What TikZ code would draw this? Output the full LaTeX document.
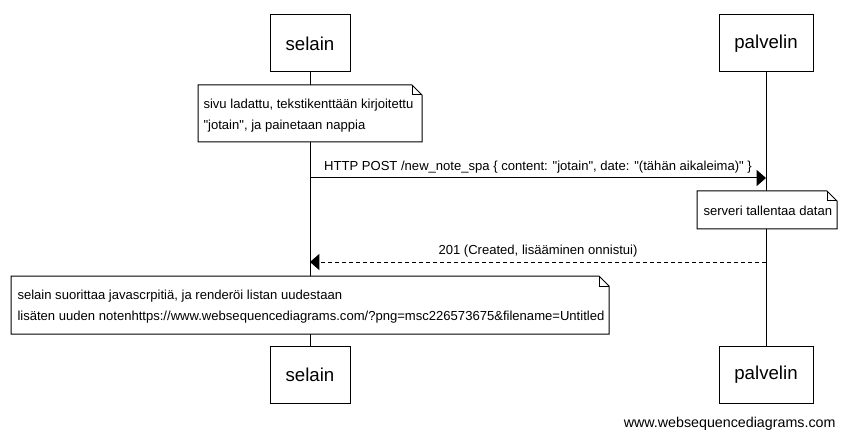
\documentclass[tikz,border=0pt]{standalone}
\usepackage{fontspec}
\setmainfont{Liberation Sans}[Ligatures=TeXOff]
\usetikzlibrary{arrows.meta, positioning}

\begin{document}
\begin{tikzpicture}[x=0.75pt, y=-0.75pt, line width=0.75pt,
  actor/.style={draw, fill=white, minimum height=42.75pt, font=\fontsize{14}{16}\selectfont},
  notetext/.style={anchor=west, align=left, inner sep=0pt, font=\fontsize{9.8}{15.5}\selectfont},
  msg/.style={-{Triangle[length=7pt, width=12pt]}},
  reply/.style={msg, dash pattern=on 3pt off 2.25pt},
  lbl/.style={midway, above, inner sep=3pt, font=\fontsize{9.8}{11}\selectfont}]
\useasboundingbox (0,0) rectangle (845,438);

% Participants, top and bottom
\node[actor, minimum width=60pt] (selTop) at (310,43.5) {selain};
\node[actor, minimum width=70.5pt] (palTop) at (766,43.5) {palvelin};
\node[actor, minimum width=60pt] (selBot) at (310,375) {selain};
\node[actor, minimum width=70.5pt] (palBot) at (766,375) {palvelin};

% Lifelines
\draw (selTop) -- (selBot);
\draw (palTop) -- (palBot);

% Note: page loaded
\draw[fill=white] (198,85) -- (412,85) -- (422,95) -- (422,142) -- (198,142) -- cycle;
\draw (412,85) -- (412,95) -- (422,95);
\node[notetext] (noteForm) at (203,115.5) {sivu ladattu, tekstikenttään kirjoitettu\\"jotain", ja painetaan nappia};

% Request to the server
\coordinate (selPost) at (310,178);
\coordinate (palPost) at (766,178);
\draw[msg] (selPost) -- (palPost) node[lbl] (postLbl) {HTTP POST /new\_note\_spa \{ content: "jotain", date: "(tähän aikaleima)" \}};

% Note: server stores
\draw[fill=white] (697,191) -- (827,191) -- (837,201) -- (837,229) -- (697,229) -- cycle;
\draw (827,191) -- (827,201) -- (837,201);
\node[notetext] (noteSave) at (703,211) {serveri tallentaa datan};

% Response
\coordinate (palResp) at (766,262);
\coordinate (selResp) at (310,262);
\draw[reply] (palResp) -- (selResp) node[lbl] (respLbl) {201 (Created, lisääminen onnistui)};

% Note: browser renders
\draw[fill=white] (11,276) -- (599,276) -- (609,286) -- (609,334) -- (11,334) -- cycle;
\draw (599,276) -- (599,286) -- (609,286);
\node[notetext] (noteRender) at (17,306.5) {selain suorittaa javascrpitiä, ja renderöi listan uudestaan\\lisäten uuden notenhttps://www.websequencediagrams.com/?png=msc226573675\&filename=Untitled};

% Watermark
\node[anchor=east, inner sep=0pt, font=\fontsize{10.7}{12}\selectfont] (mark) at (836,424) {www.websequencediagrams.com};
\end{tikzpicture}
\end{document}
